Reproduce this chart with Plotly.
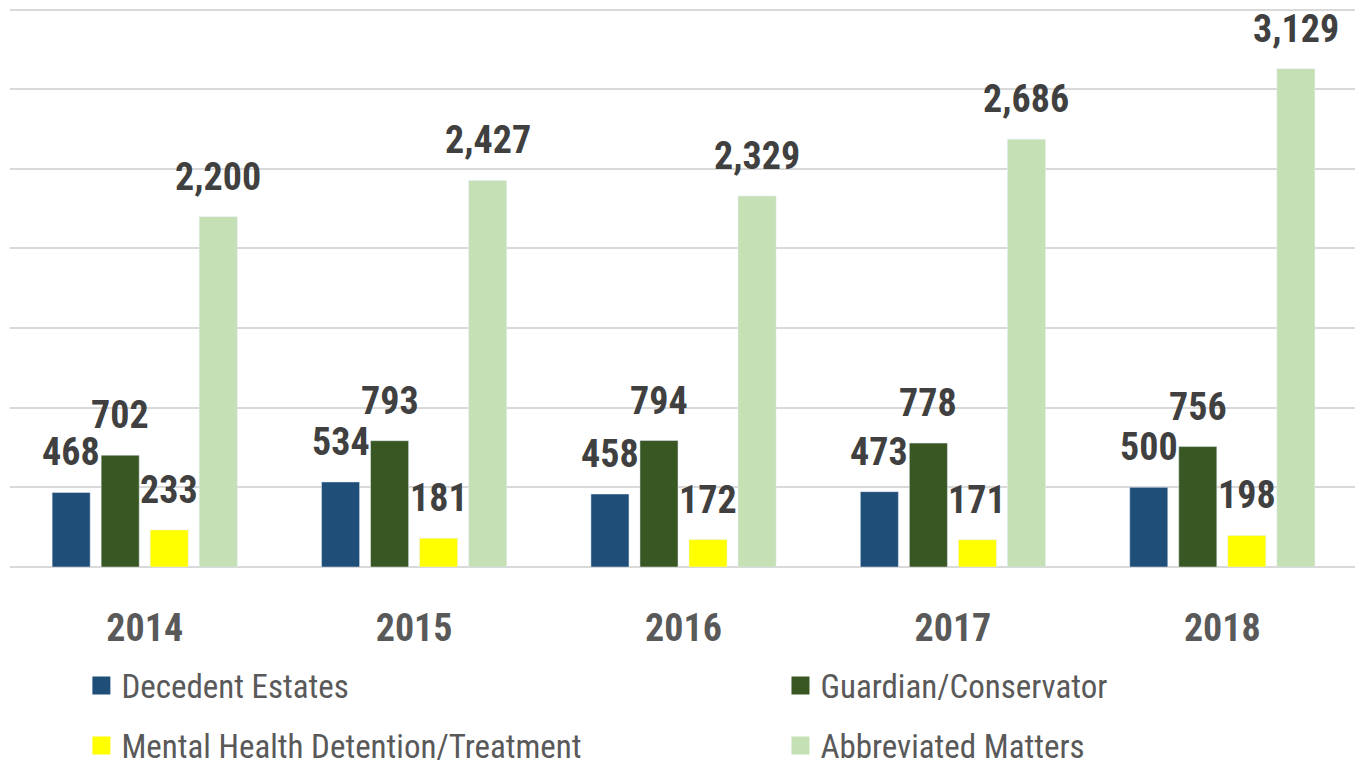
import plotly.graph_objects as go

years = ["2014", "2015", "2016", "2017", "2018"]
decedent = [468, 534, 458, 473, 500]
guardian = [702, 793, 794, 778, 756]
mental = [233, 181, 172, 171, 198]
abbreviated = [2200, 2427, 2329, 2686, 3129]

series_names = ["Decedent Estates", "Guardian/Conservator",
                "Mental Health Detention/Treatment", "Abbreviated Matters"]
series_values = [decedent, guardian, mental, abbreviated]
colors = ["#1F4E79", "#385723", "#FFFF00", "#C5E0B4"]
legend_ids = ["legend", "legend2", "legend", "legend2"]

FONT = "Liberation Sans Narrow, Roboto Condensed, DejaVu Sans Condensed, sans-serif"
BARGAP = 0.272
BARGROUPGAP = 0.224

xs = list(range(len(years)))
fig = go.Figure()
for name, vals, col in zip(series_names, series_values, colors):
    fig.add_trace(go.Bar(x=xs, y=vals, name=name, marker_color=col,
                         showlegend=False, hoverinfo="y"))

# legend entries
for name, col, lg in zip(series_names, colors, legend_ids):
    fig.add_trace(go.Scatter(x=[None], y=[None], mode="markers", name=name,
                             legend=lg, legendgroup=name,
                             marker=dict(symbol="square", size=16, color=col,
                                         line=dict(color=col, width=2))))

# data labels
nser = len(series_values)
slot = (1 - BARGAP) / nser
for j, vals in enumerate(series_values):
    for i, v in enumerate(vals):
        fig.add_annotation(x=i + (j - (nser - 1) / 2) * slot, y=v,
                           xref="x", yref="y", text=f"{v:,}", showarrow=False,
                           yanchor="bottom", yshift=16,
                           font=dict(family=FONT, size=38, color="#404040", weight="bold"))

legend_font = dict(family=FONT, size=33, color="#595959")
# the page body adds an 8px offset, so the figure is sized to fit the window
fig.update_layout(
    width=1355, height=759,
    margin=dict(l=2, r=6, t=0, b=200, autoexpand=False),
    paper_bgcolor="white", plot_bgcolor="white",
    barmode="group", bargap=BARGAP, bargroupgap=BARGROUPGAP,
    font=dict(family=FONT),
    legend=dict(x=0.053, y=-0.162, xanchor="left", yanchor="top",
                orientation="v", tracegroupgap=14, itemsizing="trace",
                font=legend_font),
    legend2=dict(x=0.572, y=-0.162, xanchor="left", yanchor="top",
                 orientation="v", tracegroupgap=14, itemsizing="trace",
                 font=legend_font),
)
fig.update_xaxes(tickvals=xs, ticktext=years, range=[-0.5, len(years) - 0.5],
                 showgrid=False, zeroline=False, showline=False, ticks="",
                 ticklabelstandoff=35,
                 tickfont=dict(family=FONT, size=38, color="#595959", weight="bold"))
fig.update_yaxes(range=[0, 3510], tick0=0, dtick=500, showticklabels=False,
                 showgrid=True, gridcolor="#D9D9D9", gridwidth=1.5,
                 zeroline=True, zerolinecolor="#D9D9D9", zerolinewidth=1.5)

fig.write_html("out.html")
